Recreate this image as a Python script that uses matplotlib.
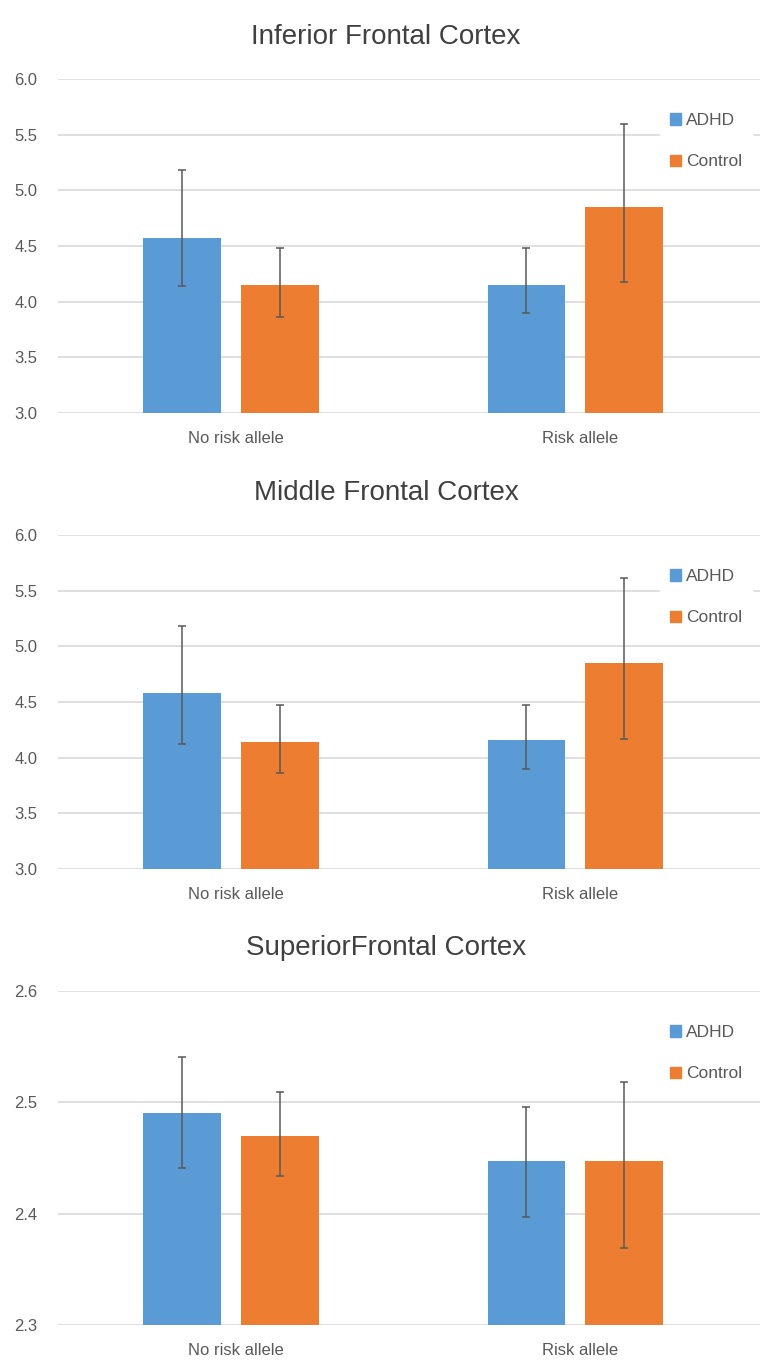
import matplotlib.pyplot as plt
import numpy as np
from matplotlib.patches import Patch

categories = ["No risk allele", "Risk allele"]
groups = ["ADHD", "Control"]
titles = ["Inferior Frontal Cortex", "Middle Frontal Cortex", "SuperiorFrontal Cortex"]

# means and error-bar ends per panel, one value per category
inf_adhd = [4.57, 4.15]
inf_ctrl = [4.15, 4.85]
inf_adhd_hi = [5.18, 4.48]
inf_adhd_lo = [4.14, 3.90]
inf_ctrl_hi = [4.48, 5.60]
inf_ctrl_lo = [3.86, 4.18]

mid_adhd = [4.58, 4.16]
mid_ctrl = [4.14, 4.85]
mid_adhd_hi = [5.18, 4.47]
mid_adhd_lo = [4.12, 3.90]
mid_ctrl_hi = [4.47, 5.61]
mid_ctrl_lo = [3.86, 4.17]

sup_adhd = [2.490, 2.4475]
sup_ctrl = [2.470, 2.4475]
sup_adhd_hi = [2.541, 2.496]
sup_adhd_lo = [2.441, 2.397]
sup_ctrl_hi = [2.509, 2.518]
sup_ctrl_lo = [2.434, 2.369]

yticks_top = [3.0, 3.5, 4.0, 4.5, 5.0, 5.5, 6.0]
yticks_sup = [2.3, 2.4, 2.5, 2.6]

panels = [
    (inf_adhd, inf_ctrl, inf_adhd_hi, inf_adhd_lo, inf_ctrl_hi, inf_ctrl_lo, yticks_top),
    (mid_adhd, mid_ctrl, mid_adhd_hi, mid_adhd_lo, mid_ctrl_hi, mid_ctrl_lo, yticks_top),
    (sup_adhd, sup_ctrl, sup_adhd_hi, sup_adhd_lo, sup_ctrl_hi, sup_ctrl_lo, yticks_sup),
]

blue = "#5b9bd5"
orange = "#ed7d31"
grey = "#595959"
grid = "#d9d9d9"

plt.rcParams['font.family'] = ['Liberation Sans', 'DejaVu Sans']

W, H = 772, 1364
fig = plt.figure(figsize=(W / 100, H / 100), dpi=100)

# axes pixel boxes (top, bottom) and title centres
boxes = [(79, 413), (535, 869), (991, 1325)]
title_y = [37, 493, 948]
left, right = 58, 760

x = np.arange(len(categories))
bw = 0.226
off = 0.142

for i, (adhd, ctrl, ahi, alo, chi, clo, yt) in enumerate(panels):
    top, bot = boxes[i]
    ax = fig.add_axes([left / W, 1 - bot / H, (right - left) / W, (bot - top) / H])
    adhd = np.array(adhd)
    ctrl = np.array(ctrl)
    aerr = [adhd - np.array(alo), np.array(ahi) - adhd]
    cerr = [ctrl - np.array(clo), np.array(chi) - ctrl]
    ax.bar(x - off, adhd, bw, color=blue, zorder=2)
    ax.bar(x + off, ctrl, bw, color=orange, zorder=2)
    ax.errorbar(x - off, adhd, yerr=aerr, fmt="none", ecolor=grey, elinewidth=1.1,
                capsize=3, capthick=1.1, zorder=3)
    ax.errorbar(x + off, ctrl, yerr=cerr, fmt="none", ecolor=grey, elinewidth=1.1,
                capsize=3, capthick=1.1, zorder=3)
    ax.set_ylim(yt[0], yt[-1])
    ax.set_xlim(-0.502, 1.536)
    ax.set_yticks(yt)
    ax.set_yticklabels(["%.1f" % v for v in yt])
    ax.set_xticks(x + 0.015)
    ax.set_xticklabels(categories)
    ax.yaxis.grid(True, color=grid, linewidth=1.2, zorder=0)
    ax.set_axisbelow(True)
    for s in ax.spines.values():
        s.set_visible(False)
    ax.tick_params(axis="both", length=0, colors=grey)
    ax.tick_params(axis="y", pad=15, labelsize=12)
    ax.tick_params(axis="x", pad=13, labelsize=12)
    fig.text(0.5, 1 - title_y[i] / H, titles[i], ha="center", va="center",
             fontsize=20, color="#404040")
    handles = [Patch(color=blue), Patch(color=orange)]
    leg = ax.legend(handles, groups, loc="upper left", bbox_to_anchor=(0.845, 0.955),
                    frameon=True, framealpha=1, edgecolor="white", fancybox=False,
                    handlelength=0.6, handleheight=0.6, handletextpad=0.3,
                    labelspacing=1.5, fontsize=12.5, borderpad=0.6)
    for t in leg.get_texts():
        t.set_color(grey)

fig.savefig("out.png", dpi=100)
plt.close(fig)
